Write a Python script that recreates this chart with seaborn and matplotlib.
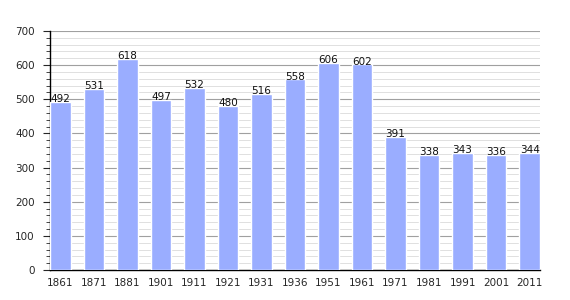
import matplotlib
matplotlib.use("Agg")
import matplotlib.pyplot as plt
import seaborn as sns
import pandas as pd
from matplotlib.ticker import MultipleLocator

years = ["1861", "1871", "1881", "1901", "1911", "1921", "1931", "1936",
         "1951", "1961", "1971", "1981", "1991", "2001", "2011"]
population = [492, 531, 618, 497, 532, 480, 516, 558, 606, 602, 391, 338, 343, 336, 344]

df = pd.DataFrame({"year": years, "pop": population})

sns.set_style("white")
plt.rcParams['font.family'] = ['DejaVu Sans']

fig = plt.figure(figsize=(5.7, 3.0), dpi=100)
ax = fig.add_axes([50/570, 30/300, 490/570, 239/300])

w = 0.62
sns.barplot(data=df, x="year", y="pop", color="#9aadff", saturation=1,
            width=w, ax=ax, zorder=3)

for i, v in enumerate(population):
    ax.text(i, v - 6, str(v), ha="center", va="bottom", fontsize=7.5,
            color="#111111", zorder=4)

ax.set_ylim(0, 700)
ax.set_xlim(-w/2, len(years) - 1 + w/2)
ax.yaxis.set_major_locator(MultipleLocator(100))
ax.yaxis.set_minor_locator(MultipleLocator(20))
ax.grid(axis="y", which="major", color="#a0a0a0", linewidth=0.8, zorder=0)
ax.grid(axis="y", which="minor", color="#e0e0e0", linewidth=0.7, zorder=0)
ax.set_axisbelow(True)

for s in ["top", "right"]:
    ax.spines[s].set_visible(False)
ax.spines["left"].set_color("black")
ax.spines["bottom"].set_color("black")
ax.spines["left"].set_linewidth(1)
ax.spines["bottom"].set_linewidth(1)

ax.tick_params(axis="y", which="major", left=True, length=5, width=0.8,
               labelsize=7.5, pad=6, direction="out")
ax.tick_params(axis="y", which="minor", left=True, length=3, width=0.6, direction="out")
ax.tick_params(axis="x", bottom=False, labelsize=7.5, pad=2)
ax.set_xlabel("")
ax.set_ylabel("")

fig.savefig("out.png", dpi=100)
